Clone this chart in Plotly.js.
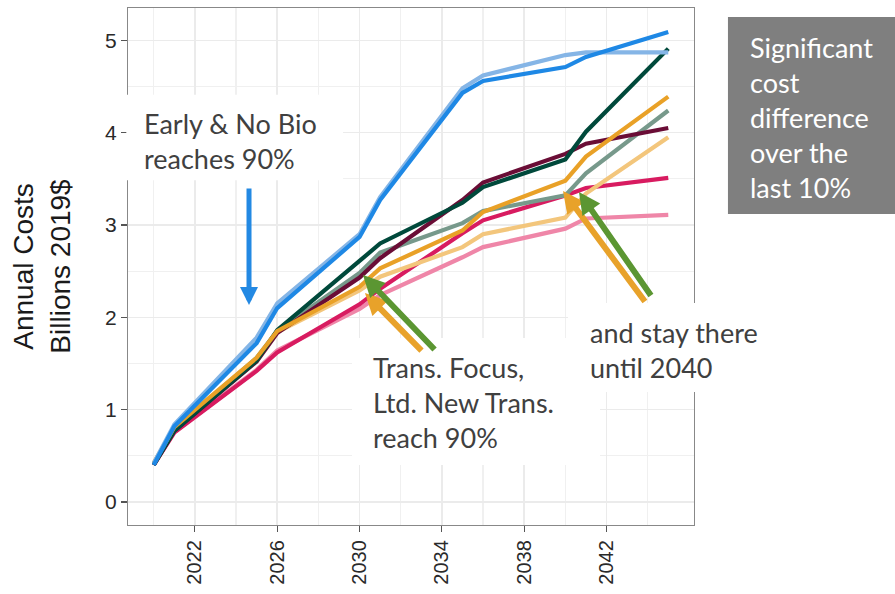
<!DOCTYPE html>
<html>
<head>
<meta charset="utf-8">
<script src="https://cdn.plot.ly/plotly-3.0.1.min.js"></script>
<style>html,body{margin:0;padding:0;background:#fff;}#chart{width:895px;height:594px;}</style>
</head>
<body>
<div id="chart"></div>
<script>
// Data
const years = [2020, 2021, 2025, 2026, 2030, 2031, 2035, 2036, 2040, 2041, 2045];

const lightPink   = [0.40, 0.76, 1.43, 1.64, 2.09, 2.24, 2.65, 2.76, 2.96, 3.07, 3.11];
const red         = [0.40, 0.75, 1.42, 1.62, 2.14, 2.31, 2.91, 3.05, 3.32, 3.40, 3.51];
const lightOrange = [0.41, 0.79, 1.55, 1.84, 2.29, 2.44, 2.76, 2.90, 3.08, 3.34, 3.95];
const grayGreen   = [0.41, 0.79, 1.56, 1.85, 2.48, 2.70, 3.02, 3.15, 3.32, 3.56, 4.24];
const maroon      = [0.40, 0.77, 1.52, 1.83, 2.43, 2.64, 3.27, 3.46, 3.77, 3.88, 4.05];
const darkGreen   = [0.40, 0.77, 1.53, 1.86, 2.61, 2.80, 3.24, 3.41, 3.71, 4.01, 4.91];
const orange      = [0.42, 0.81, 1.56, 1.85, 2.33, 2.53, 2.94, 3.14, 3.48, 3.74, 4.39];
const lightBlue   = [0.42, 0.84, 1.78, 2.15, 2.90, 3.30, 4.48, 4.62, 4.84, 4.87, 4.87];
const blue        = [0.40, 0.82, 1.72, 2.10, 2.87, 3.27, 4.43, 4.56, 4.71, 4.82, 5.09];

const xTickVals = [2022, 2026, 2030, 2034, 2038, 2042];
const yTickVals = [0, 1, 2, 3, 4, 5];

const seriesList = [
  {y: lightPink,   color: '#ef86a8'},
  {y: red,         color: '#d81b60'},
  {y: lightOrange, color: '#f3c67c'},
  {y: grayGreen,   color: '#77998b'},
  {y: maroon,      color: '#6a0d36'},
  {y: darkGreen,   color: '#00493b'},
  {y: orange,      color: '#e9a127'},
  {y: lightBlue,   color: '#85b5e6'},
  {y: blue,        color: '#1e88e5'}
];

const traces = seriesList.map(s => ({
  x: years, y: s.y, type: 'scatter', mode: 'lines',
  line: {color: s.color, width: 4.2}, hoverinfo: 'skip', showlegend: false
}));

const textFont = {family: 'Lato, "Open Sans", sans-serif', size: 27, color: '#404040'};

function box(x0, x1, y0, y1, fill) {
  return {type: 'rect', xref: 'paper', yref: 'paper', x0: x0, x1: x1, y0: y0, y1: y1,
          fillcolor: fill, line: {width: 0}, layer: 'above'};
}
function arrow(x, y, ax, ay, color, w) {
  return {xref: 'paper', yref: 'paper', x: x, y: y, ax: ax, ay: ay, text: '',
          showarrow: true, arrowhead: 2, arrowsize: 0.72, arrowwidth: w, arrowcolor: color,
          standoff: 0, startstandoff: 0};
}
function label(x, y, text, font) {
  return {xref: 'paper', yref: 'paper', x: x, y: y, xanchor: 'left', yanchor: 'middle',
          align: 'left', text: text, showarrow: false, font: font};
}

const layout = {
  width: 895, height: 594,
  margin: {l: 128, r: 201, t: 8, b: 69},
  paper_bgcolor: '#ffffff', plot_bgcolor: '#ffffff',
  xaxis: {
    range: [2018.75, 2046.25], tickvals: xTickVals, ticktext: xTickVals.map(String),
    tickangle: -90, ticks: 'outside', ticklen: 6, tickwidth: 1.2, tickcolor: '#555',
    tickfont: {family: '"Liberation Sans", Arial, sans-serif', size: 20, color: '#2a2a2a'},
    showgrid: true, gridcolor: '#ebebeb', gridwidth: 1.5,
    minor: {tickvals: [2020, 2024, 2028, 2032, 2036, 2040, 2044], showgrid: true, gridcolor: '#f0f0f0', gridwidth: 1.2},
    showline: true, mirror: true, linecolor: '#888', linewidth: 1.2, zeroline: false
  },
  yaxis: {
    range: [-0.25, 5.35], tickvals: yTickVals, ticktext: yTickVals.map(String),
    ticks: 'outside', ticklen: 6, tickwidth: 1.2, tickcolor: '#555',
    tickfont: {family: '"Liberation Sans", Arial, sans-serif', size: 21, color: '#2a2a2a'},
    showgrid: true, gridcolor: '#ebebeb', gridwidth: 1.5,
    minor: {dtick: 0.5, tick0: 0.5, showgrid: true, gridcolor: '#f0f0f0', gridwidth: 1.2},
    showline: true, mirror: true, linecolor: '#888', linewidth: 1.2, zeroline: false,
    title: {text: 'Annual Costs<br>Billions 2019$', standoff: 26,
            font: {family: '"Liberation Sans", Arial, sans-serif', size: 28, color: '#1a1a1a'}}
  },
  shapes: [
    box(-0.003, 0.380, 0.667, 0.832, '#ffffff'),
    box(0.3958, 0.834, 0.116, 0.3617, '#ffffff'),
    box(0.7774, 1.117, 0.2573, 0.4294, '#ffffff'),
    box(1.060, 1.36, 0.6015, 0.9826, '#7f7f7f')
  ],
  annotations: [
    label(0.0247, 0.7418, 'Early &amp; No Bio<br>reaches 90%', textFont),
    label(0.4293, 0.236, 'Trans. Focus,<br>Ltd. New Trans.<br>reach 90%', textFont),
    label(0.8127, 0.3385, 'and stay there<br>until 2040', textFont),
    label(1.0954, 0.789, 'Significant<br>cost<br>difference<br>over the<br>last 10%',
          {family: textFont.family, size: 27, color: '#ffffff'}),
    arrow(0.2138, 0.4255, 0, -118, '#2389e3', 5),
    arrow(0.4187, 0.4487, 58, 59, '#e8a22a', 6),
    arrow(0.4152, 0.4836, 73, 76, '#5b9632', 6),
    arrow(0.7686, 0.6460, 83, 112, '#e8a22a', 6),
    arrow(0.7968, 0.6441, 73, 105, '#5b9632', 6)
  ]
};

Plotly.newPlot('chart', traces, layout, {staticPlot: true, displayModeBar: false});
</script>
</body>
</html>
